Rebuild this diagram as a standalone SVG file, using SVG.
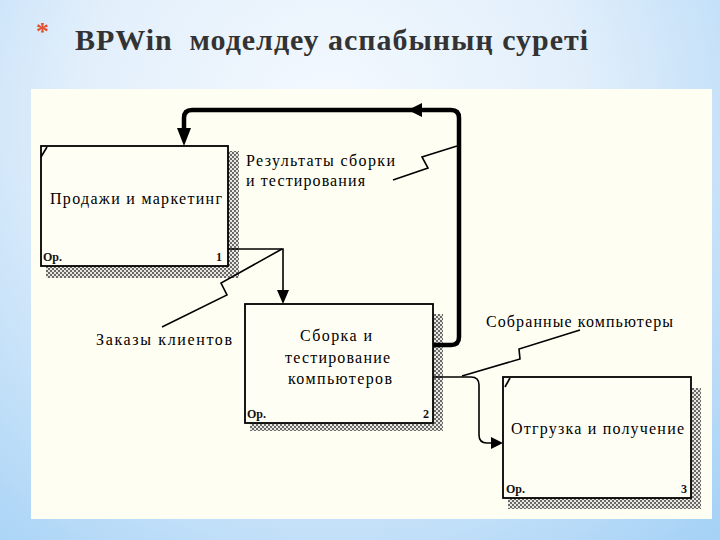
<svg xmlns="http://www.w3.org/2000/svg" width="720" height="540" viewBox="0 0 720 540">
<defs>
<radialGradient id="bg" cx="330" cy="120" r="560" gradientUnits="userSpaceOnUse">
<stop offset="0" stop-color="#f4f9fe"/>
<stop offset="0.45" stop-color="#e2effb"/>
<stop offset="1" stop-color="#a6d2f6"/>
</radialGradient>
<pattern id="hatch" width="4" height="4" patternUnits="userSpaceOnUse">
<rect width="4" height="4" fill="#e8e8e0"/>
<rect x="0" y="0" width="2" height="2" fill="#6a6a6a"/>
<rect x="2" y="2" width="2" height="2" fill="#6a6a6a"/>
</pattern>
<style>
.box{fill:#fffef4;stroke:#000;stroke-width:1.8}
.sh{fill:url(#hatch)}
.t{font-family:"Liberation Serif","DejaVu Serif",serif;font-size:16px;fill:#000}
.s{font-family:"Liberation Serif","DejaVu Serif",serif;font-size:12px;font-weight:bold;fill:#111}
.ln{fill:none;stroke:#000;stroke-width:1.6}
.thick{fill:none;stroke:#000;stroke-width:4.5}
.ah{fill:#000}
</style>
</defs>
<rect width="720" height="540" fill="url(#bg)"/>
<text x="36" y="40" font-family="Liberation Serif, serif" font-size="26" font-weight="bold" fill="#e0502a">*</text>
<text x="75" y="50" font-family="Liberation Serif, serif" font-size="30" font-weight="bold" fill="#333" textLength="513" xml:space="preserve">BPWin  моделдеу аспабының суреті</text>
<rect x="31" y="89" width="681" height="430" fill="#fffef2"/>

<g id="box1">
<rect class="sh" x="228" y="151" width="11" height="127"/>
<rect class="sh" x="46" y="266" width="193" height="12"/>
<rect class="box" x="41" y="146" width="187" height="120"/>
<line class="ln" x1="41" y1="157" x2="47" y2="147" stroke-width="1"/>
<text class="t" x="50" y="204" textLength="172" lengthAdjust="spacing">Продажи и маркетинг</text>
<text class="s" x="43" y="261">Ор.</text>
<text class="s" x="216" y="261">1</text>
</g>

<g id="box2">
<rect class="sh" x="433" y="314" width="10" height="117"/>
<rect class="sh" x="250" y="423" width="193" height="8"/>
<rect class="box" x="245" y="304" width="188" height="119"/>
<text class="t" x="300" y="341" textLength="72" lengthAdjust="spacing">Сборка и</text>
<text class="t" x="285" y="363" textLength="105" lengthAdjust="spacing">тестирование</text>
<text class="t" x="288" y="384" textLength="104" lengthAdjust="spacing">компьютеров</text>
<text class="s" x="247" y="418">Ор.</text>
<text class="s" x="423" y="418">2</text>
</g>

<g id="box3">
<rect class="sh" x="691" y="388" width="10" height="121"/>
<rect class="sh" x="508" y="498" width="193" height="11"/>
<rect class="box" x="503" y="377" width="188" height="121"/>
<line class="ln" x1="505" y1="387" x2="510" y2="378" stroke-width="1"/>
<text class="t" x="511" y="434" textLength="173" lengthAdjust="spacing">Отгрузка и получение</text>
<text class="s" x="506" y="493">Ор.</text>
<text class="s" x="681" y="493">3</text>
</g>

<g id="connectors">
<path class="thick" d="M433 345 L451 345 Q459 345 459 337 L459 118 Q459 110 451 110 L192 110 Q184 110 184 118 L184 132"/>
<polygon class="ah" points="177,128 191,128 184,146"/>
<polygon class="ah" points="408,110 422,103 422,117"/>
<path class="ln" d="M228 249 L283 249 L283 292"/>
<polygon class="ah" points="277,290 289,290 283,304"/>
<path class="ln" d="M433 377 L471 377 Q479 377 479 385 L479 435 Q479 443 487 443 L492 443"/>
<polygon class="ah" points="491,437 503,443 491,449"/>
<polyline class="ln" points="393,180 428,168 422,157 457,146"/>
<polyline class="ln" points="162,327 227,295 221,283 282,249"/>
<polyline class="ln" points="580,330 519,349 520,359 462,376"/>
</g>
<g id="labels">
<text class="t" x="246" y="166" textLength="149" lengthAdjust="spacing">Результаты сборки</text>
<text class="t" x="246" y="186" textLength="119" lengthAdjust="spacing">и тестирования</text>
<text class="t" x="96" y="345" textLength="136" lengthAdjust="spacing">Заказы клиентов</text>
<text class="t" x="486" y="327" textLength="187" lengthAdjust="spacing">Собранные компьютеры</text>
</g>
</svg>
